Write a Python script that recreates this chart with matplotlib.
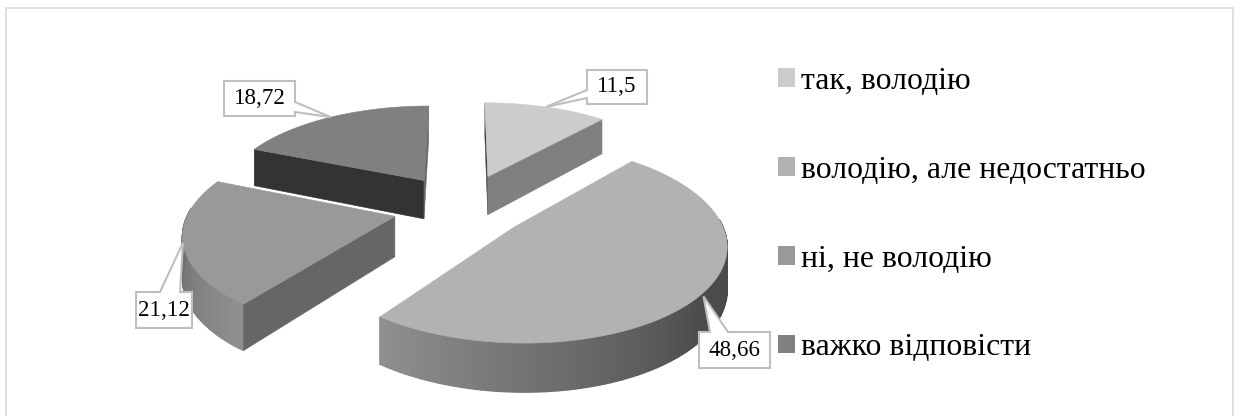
import numpy as np
import matplotlib
matplotlib.use("Agg")
import matplotlib.pyplot as plt
from matplotlib.patches import Polygon, Patch, Rectangle

plt.rcParams['font.family'] = ['Liberation Serif', 'DejaVu Serif']

# ---- data ----
categories = ["так, володію", "володію, але недостатньо", "ні, не володію", "важко відповісти"]
values = [11.5, 48.66, 21.12, 18.72]

# ---- style ----
top_colors = ["#cccccc", "#b2b2b2", "#999999", "#808080"]
start_face = ["#3f3f3f", "#8e8e8e", "#666666", "#333333"]
end_face = ["#808080", "#4c4c4c", "#7a7a7a", "#6a6a6a"]
slice_dx = [0, -5, -4, -5]      # fine placement of each slice, px
slice_dy = [-1, 2, 3, 0]
slice_r = [1.0, 0.985, 1.0, 1.0]
CX, CY, R, TILT, PERSP, EXPLODE, DEPTH = 465, 205, 205, 0.4537, 0.155, 0.33, 40
border = "#bfbfbf"


def project(X, Y, drop=0.0, i=None):
    w = 1 - PERSP * Y
    dx = slice_dx[i] if i is not None else 0
    dy = slice_dy[i] if i is not None else 0
    return CX + dx + R * X / w, CY + dy + R * TILT * Y / w + drop / w


def wall_grey(theta):
    g = np.interp(theta, [90, 130, 216.6, 262], [0x48, 0x4c, 0x90, 0x70])
    return (g / 255, g / 255, g / 255)


fig = plt.figure(figsize=(12.4, 4.16), dpi=100, facecolor="white")
ax = fig.add_axes([0, 0, 1, 1])
ax.set_xlim(0, 1240)
ax.set_ylim(416, 0)
ax.axis("off")
ax.add_patch(Rectangle((6, 7.5), 1227, 420, fc="white", ec="#d9d9d9", lw=1.2, zorder=0))

total = sum(values)
edges = np.concatenate([[0], np.cumsum(values)]) / total * 360.0
wedges = []
for i, v in enumerate(values):
    t0, t1 = edges[i], edges[i + 1]
    mid = np.radians((t0 + t1) / 2)
    ox, oy = EXPLODE * np.sin(mid), -EXPLODE * np.cos(mid)
    th = np.radians(np.linspace(t0, t1, 120))
    X = ox + slice_r[i] * np.sin(th)
    Y = oy - slice_r[i] * np.cos(th)
    wedges.append(dict(i=i, ox=ox, oy=oy, th=th, X=X, Y=Y, mid=mid))


def cut_face(wd, ex, ey, col):
    ox, oy, i = wd["ox"], wd["oy"], wd["i"]
    pts = [project(ox, oy, 0, i), project(ex, ey, 0, i),
           project(ex, ey, DEPTH, i), project(ox, oy, DEPTH, i)]
    ax.add_patch(Polygon(pts, closed=True, fc=col, ec=col, lw=0.4))


# back slices first, near slices last
for wd in sorted(wedges, key=lambda d: d["oy"]):
    i, ox, oy, th, X, Y = wd["i"], wd["ox"], wd["oy"], wd["th"], wd["X"], wd["Y"]
    # a cut face is seen only when its outward normal points to the viewer
    start_seen = -np.cos(th[0] - np.pi / 2) >= -1e-6
    end_seen = -np.cos(th[-1] + np.pi / 2) >= -1e-6
    for k in range(len(th) - 1):
        deg = np.degrees((th[k] + th[k + 1]) / 2)
        if not 85 < deg < 275:
            continue
        pts = [project(X[k], Y[k], 0, i), project(X[k + 1], Y[k + 1], 0, i),
               project(X[k + 1], Y[k + 1], DEPTH, i), project(X[k], Y[k], DEPTH, i)]
        c = wall_grey(deg)
        ax.add_patch(Polygon(pts, closed=True, fc=c, ec=c, lw=1.0))
    if start_seen:
        cut_face(wd, X[0], Y[0], start_face[i])
    if end_seen:
        cut_face(wd, X[-1], Y[-1], end_face[i])
    top = [project(ox, oy, 0, i)] + [project(a, b, 0, i) for a, b in zip(X, Y)]
    ax.add_patch(Polygon(top, closed=True, fc=top_colors[i], ec=top_colors[i], lw=0.4))

# callout boxes: (left, top, right, bottom), side with pointer, base start, base end
boxes = [
    ((587, 70, 647, 104), "left", 90, 98),
    ((699, 332, 770, 368), "top", 710, 728),
    ((136, 292, 192, 328), "top", 160, 180),
    ((224, 81, 295, 116), "right", 102, 112),
]
for wd, (bx, side, b0, b1), v in zip(wedges, boxes, values):
    tip = project(wd["ox"] + np.sin(wd["mid"]), wd["oy"] - np.cos(wd["mid"]), 0, wd["i"])
    l, t, r, b = bx
    if side == "left":
        pts = [(l, t), (r, t), (r, b), (l, b), (l, b1), tip, (l, b0)]
    elif side == "right":
        pts = [(l, t), (r, t), (r, b0), tip, (r, b1), (r, b), (l, b)]
    else:
        pts = [(l, t), (b0, t), tip, (b1, t), (r, t), (r, b), (l, b)]
    ax.add_patch(Polygon(pts, closed=True, fc="white", ec=border, lw=1.5, zorder=5))
    ax.text((l + r) / 2, (t + b) / 2, f"{v:g}".replace(".", ","), ha="center", va="center",
            fontsize=16.6, color="black", zorder=6)

handles = [Patch(fc=c, ec="none") for c in top_colors]
ax.legend(handles, categories, loc="upper left", bbox_to_anchor=(778, 67),
          bbox_transform=ax.transData, frameon=False, fontsize=22.9, borderpad=0, borderaxespad=0,
          handlelength=0.53, handleheight=0.53, handletextpad=0.2, labelspacing=1.88,
          labelcolor="black")

fig.savefig("out.png", dpi=100, facecolor="white")
